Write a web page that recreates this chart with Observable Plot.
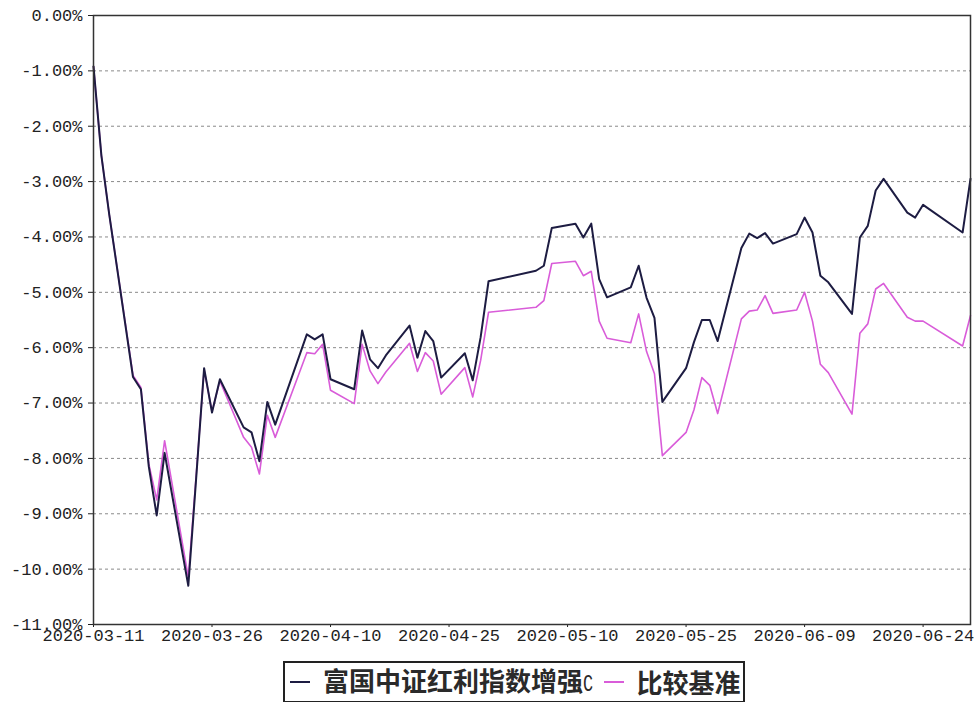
<!DOCTYPE html>
<html>
<head>
<meta charset="utf-8">
<script src="https://cdn.jsdelivr.net/npm/d3@7"></script>
<script src="https://cdn.jsdelivr.net/npm/@observablehq/plot@0.6"></script>
<style>
  html, body { margin: 0; padding: 0; background: #fff; }
  #wrap { width: 976px; height: 702px; position: relative; overflow: hidden; }
  #legend {
    position: absolute; left: 283px; top: 661px; width: 458px; height: 38px;
    border: 2px solid #222; display: flex; align-items: center;
    font-family: "Noto Sans CJK SC", sans-serif; font-size: 26px; font-weight: 700; color: #2a2a2a;
    white-space: nowrap; box-sizing: content-box; line-height: 1;
  }
  .sw { display: inline-block; width: 20px; height: 2px; }
  .c { display: inline-block; font-family: "Liberation Mono", monospace; font-weight: 400; font-size: 24px;
       margin-left: 0px; margin-right: -4px; transform: scaleX(0.7); transform-origin: left center; }
</style>
</head>
<body>
<div id="wrap">
  <div id="chart"></div>
  <div id="legend"></div>
</div>
<script>
// ---- data ----
const dates = [
  "2020-03-11","2020-03-12","2020-03-13","2020-03-16","2020-03-17","2020-03-18","2020-03-19","2020-03-20",
  "2020-03-23","2020-03-24","2020-03-25","2020-03-26","2020-03-27","2020-03-30","2020-03-31",
  "2020-04-01","2020-04-02","2020-04-03","2020-04-07","2020-04-08","2020-04-09","2020-04-10",
  "2020-04-13","2020-04-14","2020-04-15","2020-04-16","2020-04-17","2020-04-20","2020-04-21","2020-04-22",
  "2020-04-23","2020-04-24","2020-04-27","2020-04-28","2020-04-29","2020-04-30",
  "2020-05-06","2020-05-07","2020-05-08","2020-05-11","2020-05-12","2020-05-13","2020-05-14","2020-05-15",
  "2020-05-18","2020-05-19","2020-05-20","2020-05-21","2020-05-22","2020-05-25","2020-05-26","2020-05-27",
  "2020-05-28","2020-05-29",
  "2020-06-01","2020-06-02","2020-06-03","2020-06-04","2020-06-05","2020-06-08","2020-06-09","2020-06-10",
  "2020-06-11","2020-06-12","2020-06-15","2020-06-16","2020-06-17","2020-06-18","2020-06-19","2020-06-22",
  "2020-06-23","2020-06-24","2020-06-29","2020-06-30"
];
const fundValues = [
  -0.92,-2.53,-3.60,-6.53,-6.75,-8.15,-9.03,-7.90,
  -10.30,-8.35,-6.37,-7.17,-6.57,-7.44,-7.53,
  -8.05,-6.98,-7.39,-5.76,-5.85,-5.76,-6.57,
  -6.75,-5.69,-6.21,-6.37,-6.14,-5.60,-6.18,-5.70,
  -5.88,-6.54,-6.10,-6.59,-5.81,-4.80,
  -4.61,-4.52,-3.84,-3.76,-4.01,-3.76,-4.76,-5.09,
  -4.91,-4.52,-5.10,-5.46,-6.98,-6.37,-5.90,-5.50,
  -5.50,-5.88,
  -4.20,-3.94,-4.02,-3.93,-4.12,-3.95,-3.65,-3.92,
  -4.70,-4.82,-5.39,-4.01,-3.80,-3.16,-2.95,-3.56,
  -3.65,-3.42,-3.92,-2.95
];
const benchValues = [
  -0.92,-2.53,-3.60,-6.50,-6.72,-8.10,-8.75,-7.68,
  -10.15,-8.30,-6.40,-7.15,-6.60,-7.62,-7.80,
  -8.28,-7.22,-7.62,-6.09,-6.11,-5.94,-6.77,
  -7.01,-5.94,-6.42,-6.65,-6.44,-5.92,-6.43,-6.09,
  -6.24,-6.84,-6.36,-6.89,-6.23,-5.36,
  -5.27,-5.15,-4.48,-4.44,-4.70,-4.62,-5.52,-5.83,
  -5.91,-5.39,-6.07,-6.47,-7.95,-7.53,-7.12,-6.54,
  -6.68,-7.19,
  -5.48,-5.34,-5.32,-5.06,-5.38,-5.32,-5.00,-5.52,
  -6.30,-6.45,-7.20,-5.74,-5.57,-4.94,-4.84,-5.45,
  -5.52,-5.52,-5.97,-5.42
];
const seriesNames = ["富国中证红利指数增强C", "比较基准"];
const seriesColors = ["#1d1c42", "#d95cd9"];
const yTickValues = [0,-1,-2,-3,-4,-5,-6,-7,-8,-9,-10,-11];
const xTickLabels = ["2020-03-11","2020-03-26","2020-04-10","2020-04-25","2020-05-10","2020-05-25","2020-06-09","2020-06-24"];
const xDomain = ["2020-03-11","2020-06-30"];

// ---- build ----
const parse = d3.utcParse("%Y-%m-%d");
const fundRows = dates.map((d, i) => ({date: parse(d), value: fundValues[i]}));
const benchRows = dates.map((d, i) => ({date: parse(d), value: benchValues[i]}));

const chart = Plot.plot({
  width: 976,
  height: 650,
  marginLeft: 93,
  marginRight: 6,
  marginTop: 15,
  marginBottom: 26,
  style: {fontFamily: "Liberation Mono, DejaVu Sans Mono, monospace", fontSize: "17px", color: "#222", background: "#fff"},
  x: {type: "utc", domain: xDomain.map(parse)},
  y: {domain: [-11, 0]},
  marks: [
    Plot.ruleY(yTickValues.filter(v => v > -11 && v < 0), {stroke: "#8a8a8a", strokeDasharray: "3,3", strokeWidth: 1}),
    Plot.axisY({ticks: yTickValues, tickFormat: v => v.toFixed(2) + "%", tickSize: 5, tickPadding: 6, label: null, fontSize: 17}),
    Plot.axisX({ticks: xTickLabels.map(parse), tickFormat: d3.utcFormat("%Y-%m-%d"), tickSize: 3, tickPadding: 1, label: null, fontSize: 17}),
    Plot.line(benchRows, {x: "date", y: "value", stroke: seriesColors[1], strokeWidth: 1.6}),
    Plot.line(fundRows, {x: "date", y: "value", stroke: seriesColors[0], strokeWidth: 2}),
    Plot.frame({stroke: "#333", strokeWidth: 1.5})
  ]
});
document.getElementById("chart").appendChild(chart);

// ---- legend ----
const legend = document.getElementById("legend");
seriesNames.forEach((name, i) => {
  const sw = document.createElement("span");
  sw.className = "sw";
  sw.style.background = seriesColors[i];
  sw.style.marginLeft = i === 0 ? "5px" : "11px";
  sw.style.marginRight = i === 0 ? "13px" : "12px";
  legend.appendChild(sw);
  const t = document.createElement("span");
  if (name.endsWith("C")) {
    t.textContent = name.slice(0, -1);
    const c = document.createElement("span");
    c.className = "c";
    c.textContent = "C";
    t.appendChild(c);
  } else {
    t.textContent = name;
  }
  legend.appendChild(t);
});
</script>
</body>
</html>
